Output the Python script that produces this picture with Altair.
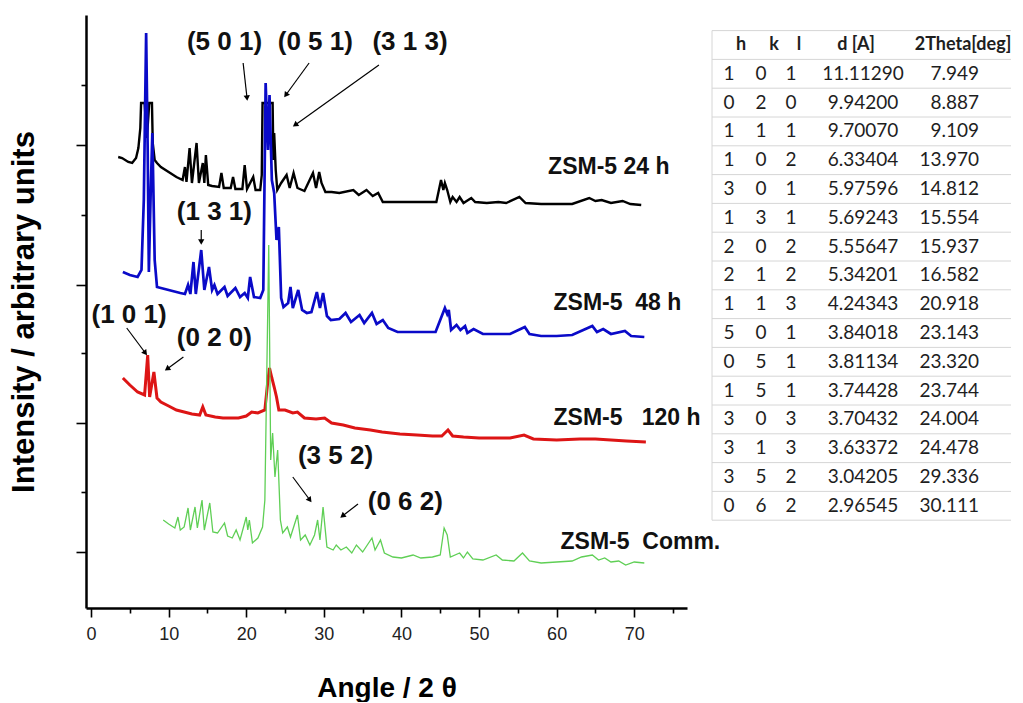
import math
import altair as alt
import pandas as pd

# ---------------- data ----------------
# ZSM-5 24 h (black)
black_angle = [3.5, 4.0, 4.8, 5.3, 5.8, 6.1, 6.35, 6.45, 6.9, 7.2,
               7.5, 7.85, 7.95, 8.2, 8.5, 9.0, 10.0, 11.0, 11.8, 12.1,
               12.3, 12.7, 13.0, 13.6, 13.9, 14.4, 14.6, 14.8, 15.1, 15.6,
               16.5, 16.8, 17.1, 18.0, 18.3, 18.6, 19.5, 19.8, 20.1, 20.9,
               21.2, 21.8, 22.0, 22.1, 22.6, 23.0, 23.4, 23.5, 23.6, 23.8,
               24.0, 24.5, 25.2, 25.6, 26.1, 26.6, 27.5, 28.6, 29.0, 29.4,
               29.7, 30.2, 31.0, 32.0, 33.8, 34.5, 35.5, 36.3, 37.0, 37.6,
               38.5, 40.0, 42.0, 44.5, 45.1, 45.4, 45.6, 45.9, 46.3, 46.6,
               47.1, 47.5, 48.0, 49.0, 49.5, 51.0, 52.5, 53.5, 55.2, 56.0,
               58.0, 60.0, 62.0, 64.2, 65.0, 65.8, 67.0, 68.5, 69.5, 70.9]
black_int = [451, 450, 446, 445, 450, 460, 480, 505, 505, 470,
             505, 505, 465, 448, 445, 441, 436, 431, 428, 441,
             426, 460, 425, 465, 425, 445, 425, 453, 423, 422,
             421, 435, 420, 420, 431, 419, 419, 443, 419, 431,
             418, 418, 433, 505, 505, 505, 505, 448, 475, 438,
             418, 425, 433, 420, 435, 420, 417, 435, 420, 436,
             425, 416, 416, 415, 418, 413, 418, 412, 415, 406,
             406, 406, 406, 406, 428, 418, 425, 418, 406, 411,
             406, 411, 405, 410, 406, 405, 406, 405, 411, 405,
             404, 404, 404, 410, 407, 408, 405, 407, 404, 403]

# ZSM-5 48 h (blue)
blue_angle = [4.1, 5.0, 6.0, 6.5, 6.8, 7.1, 7.3, 7.45, 7.7, 7.9,
              8.2, 8.5, 9.5, 10.5, 11.5, 12.1, 12.5, 12.8, 13.2, 13.5,
              14.2, 14.6, 15.2, 15.6, 15.9, 16.3, 17.2, 17.6, 18.6, 19.2,
              19.8, 20.2, 20.5, 21.0, 21.8, 22.2, 22.5, 22.8, 23.0, 23.3,
              23.6, 23.9, 24.2, 24.5, 24.8, 25.4, 25.7, 26.0, 26.7, 27.2,
              27.8, 28.4, 29.1, 29.5, 29.9, 30.4, 30.9, 32.0, 32.8, 33.5,
              34.6, 35.2, 36.2, 36.8, 37.6, 38.3, 39.5, 42.0, 44.4, 45.6,
              45.9, 46.1, 46.4, 47.1, 47.6, 48.2, 48.5, 49.3, 50.5, 52.5,
              54.0, 55.9, 56.5, 58.0, 60.0, 62.0, 64.6, 65.2, 66.0, 67.0,
              68.8, 69.6, 71.3]
blue_int = [336, 333, 331, 338, 408, 575, 458, 336, 420, 475,
            348, 321, 319, 317, 315, 314, 323, 314, 346, 314,
            358, 318, 341, 318, 323, 314, 321, 312, 320, 311,
            315, 310, 331, 311, 310, 318, 525, 458, 513, 428,
            415, 368, 381, 310, 301, 305, 321, 300, 318, 298,
            295, 296, 316, 300, 315, 292, 288, 289, 295, 286,
            293, 285, 295, 284, 288, 280, 276, 276, 276, 300,
            294, 298, 278, 283, 278, 282, 275, 279, 274, 274,
            274, 281, 274, 272, 272, 273, 282, 276, 279, 274,
            277, 272, 271]

# ZSM-5 120 h (red)
red_angle = [4.1, 5.0, 6.0, 6.9, 7.3, 7.55, 8.1, 8.5, 9.0, 10.0,
             11.0, 12.0, 13.0, 14.0, 14.4, 14.8, 16.0, 17.0, 18.0, 19.0,
             20.0, 20.7, 21.5, 22.4, 22.8, 23.0, 23.3, 23.6, 23.9, 24.2,
             25.0, 26.0, 26.6, 27.5, 29.0, 30.1, 31.0, 32.5, 34.0, 36.0,
             37.5, 39.8, 42.0, 44.0, 45.2, 46.0, 46.6, 48.0, 50.0, 52.0,
             54.0, 55.8, 57.0, 60.0, 63.0, 65.0, 67.0, 69.0, 71.5]
red_int = [230, 223, 216, 213, 253, 211, 236, 210, 206, 202,
           198, 196, 194, 193, 201, 193, 191, 190, 190, 190,
           192, 196, 195, 198, 228, 240, 230, 221, 211, 198,
           198, 195, 196, 190, 189, 190, 185, 183, 180, 178,
           176, 174, 173, 172, 172, 178, 172, 171, 170, 170,
           170, 173, 169, 168, 169, 169, 168, 167, 166]

# ZSM-5 commercial (green)
green_angle = [9.3, 10.0, 10.8, 11.2, 11.5, 12.0, 12.5, 12.8, 13.4, 13.7,
               14.3, 14.6, 15.3, 15.7, 16.3, 17.2, 17.6, 18.2, 18.7, 19.2,
               20.0, 20.2, 20.4, 20.8, 21.5, 22.1, 22.4, 22.9, 23.15, 23.4,
               23.7, 24.05, 24.4, 24.7, 25.3, 25.7, 26.6, 27.0, 27.6, 28.2,
               28.8, 29.2, 29.5, 29.9, 30.4, 31.2, 31.6, 32.2, 32.9, 33.6,
               34.2, 35.0, 36.2, 36.6, 37.3, 37.8, 38.9, 40.0, 41.5, 42.5,
               44.0, 45.0, 45.5, 45.9, 46.3, 47.5, 48.0, 48.5, 49.2, 50.5,
               52.2, 53.0, 54.5, 55.6, 56.5, 58.0, 60.0, 62.0, 63.2, 64.6,
               65.4, 66.2, 67.0, 68.0, 68.9, 70.0, 71.3]
green_int = [88, 84, 80, 91, 78, 81, 100, 78, 101, 80,
             108, 78, 105, 76, 75, 85, 72, 70, 78, 68,
             91, 78, 88, 65, 70, 81, 108, 363, 148, 175,
             131, 158, 88, 75, 81, 71, 93, 68, 73, 63,
             73, 88, 68, 101, 61, 58, 63, 58, 61, 55,
             63, 56, 70, 58, 68, 55, 51, 50, 53, 50,
             51, 53, 80, 73, 51, 55, 50, 56, 49, 48,
             53, 48, 47, 55, 47, 45, 46, 47, 51, 53,
             48, 50, 46, 47, 43, 46, 45]

# series labels
lab_text = ["ZSM-5 24 h", "ZSM-5\u00a0\u00a048 h", "ZSM-5\u00a0\u00a0\u00a0120 h", "ZSM-5\u00a0\u00a0Comm."]
lab_angle = [58.9, 59.6, 59.6, 60.5]
lab_int = [441, 305, 190, 66]

# (h k l) annotations
ann_text = ["(5 0 1)", "(0 5 1)", "(3 1 3)", "(1 3 1)", "(1 0 1)", "(0 2 0)", "(3 5 2)", "(0 6 2)"]
ann_angle = [17.2, 28.9, 41.1, 15.9, 4.9, 15.9, 31.5, 40.5]
ann_int = [566, 566, 566, 396, 293, 270, 152, 106]
arr_x1 = [19.6, 28.1, 37.1, 14.2, 4.6, 11.9, 26.0, 34.4]
arr_y1 = [545, 545, 543, 378, 280, 251, 131, 104]
arr_x2 = [20.1, 25.1, 26.3, 14.2, 7.0, 9.8, 28.2, 32.4]
arr_y2 = [510, 513, 483, 366, 255, 239, 108, 92]

# axes
x_ticks = [0, 5, 10, 15, 20, 25, 30, 35, 40, 45, 50, 55, 60, 65, 70, 75]
y_ticks = [56, 116, 185, 255, 323, 393, 463, 523]
y_major = [56, 185, 323, 463]

# reflection table
h_idx = [1, 0, 1, 1, 3, 1, 2, 2, 1, 5, 0, 1, 3, 3, 3, 0]
k_idx = [0, 2, 1, 0, 0, 3, 0, 1, 1, 0, 5, 5, 0, 1, 5, 6]
l_idx = [1, 0, 1, 2, 1, 1, 2, 2, 3, 1, 1, 1, 3, 3, 2, 2]
d_spacing = ["11.11290", "9.94200", "9.70070", "6.33404", "5.97596", "5.69243",
             "5.55647", "5.34201", "4.24343", "3.84018", "3.81134", "3.74428",
             "3.70432", "3.63372", "3.04205", "2.96545"]
two_theta = ["7.949", "8.887", "9.109", "13.970", "14.812", "15.554", "15.937",
             "16.582", "20.918", "23.143", "23.320", "23.744", "24.004", "24.478",
             "29.336", "30.111"]
tbl_header = ["h", "k", "l", "d [A]", "2Theta[deg]"]

# ---------------- chart ----------------
FONT = "Arial, Liberation Sans, sans-serif"
TFONT = "Lato, Open Sans, sans-serif"
W, H = 601, 593
X_DOM = [-0.65, 76.8]
Y_DOM = [0, 593]

xs = alt.Scale(domain=X_DOM, nice=False, zero=False)
ys = alt.Scale(domain=Y_DOM, nice=False, zero=False)

x_axis = alt.Axis(
    values=x_ticks, title="Angle / 2 θ", grid=False,
    labelExpr="datum.value % 10 === 0 ? datum.label : ''",
    tickSize={"condition": {"test": "datum.value % 10 === 0", "value": 9}, "value": 5},
    tickWidth=1.6, tickColor="black", domainColor="black", domainWidth=2.5,
    labelFont=FONT, labelFontSize=18, labelColor="#222", labelPadding=8,
    titleFont=FONT, titleFontSize=28, titleFontWeight="bold", titleColor="black",
    titlePadding=31,
)
major_test = "indexof([" + ",".join(str(v) for v in y_major) + "], datum.value) >= 0"
y_axis = alt.Axis(
    values=y_ticks, labels=False, title="Intensity / arbitrary units", grid=False,
    tickSize={"condition": {"test": major_test, "value": 10}, "value": 5},
    tickWidth=1.6, tickColor="black", domainColor="black", domainWidth=2.5,
    titleFont=FONT, titleFontSize=31, titleFontWeight="bold", titleColor="black",
    titlePadding=35,
)


def trace(ang, inten, color, width):
    df = pd.DataFrame({"angle": ang, "intensity": inten})
    return alt.Chart(df).mark_line(color=color, strokeWidth=width).encode(
        x=alt.X("angle:Q", scale=xs, axis=x_axis),
        y=alt.Y("intensity:Q", scale=ys, axis=y_axis),
    )


black = trace(black_angle, black_int, "#000000", 2.4)
blue = trace(blue_angle, blue_int, "#0a0ac8", 2.7)
red = trace(red_angle, red_int, "#dd1515", 3.0)
green = trace(green_angle, green_int, "#5fcf55", 1.3)

px_x = W / (X_DOM[1] - X_DOM[0])
px_y = H / (Y_DOM[1] - Y_DOM[0])
heads = [
    math.degrees(math.atan2((b - a) * px_x, (d - c) * px_y)) % 360
    for a, b, c, d in zip(arr_x1, arr_x2, arr_y1, arr_y2)
]
arr_df = pd.DataFrame({"x1": arr_x1, "y1": arr_y1, "x2": arr_x2, "y2": arr_y2, "ang": heads})

arrows = alt.Chart(arr_df).mark_rule(color="black", strokeWidth=1.2).encode(
    x=alt.X("x1:Q", scale=xs, axis=x_axis), y=alt.Y("y1:Q", scale=ys, axis=y_axis),
    x2="x2:Q", y2="y2:Q",
)
arrow_heads = alt.Chart(arr_df).mark_point(
    shape="triangle-up", filled=True, size=40, color="black", opacity=1
).encode(
    x=alt.X("x2:Q", scale=xs, axis=x_axis), y=alt.Y("y2:Q", scale=ys, axis=y_axis),
    angle=alt.Angle("ang:Q", scale=None),
)

ann_df = pd.DataFrame({"t": ann_text, "x": ann_angle, "y": ann_int})
ann = alt.Chart(ann_df).mark_text(
    font=FONT, fontSize=26, fontWeight="bold", color="#111", align="center", baseline="middle"
).encode(
    x=alt.X("x:Q", scale=xs, axis=x_axis), y=alt.Y("y:Q", scale=ys, axis=y_axis), text="t:N"
)

lab_df = pd.DataFrame({"t": lab_text, "x": lab_angle, "y": lab_int})
labels = alt.Chart(lab_df).mark_text(
    font=FONT, fontSize=23, fontWeight="bold", color="#111", align="left", baseline="middle"
).encode(
    x=alt.X("x:Q", scale=xs, axis=x_axis), y=alt.Y("y:Q", scale=ys, axis=y_axis), text="t:N"
)

main = alt.layer(black, blue, red, green, arrows, arrow_heads, ann, labels)

# ---- table (own y scale: row index) ----
tys = alt.Scale(domain=[0, 16], range=[30, 30 + 28.8 * 16], nice=False, zero=False)
tbl = pd.DataFrame({"row": list(range(1, 17)), "h": h_idx, "k": k_idx, "l": l_idx,
                    "d": d_spacing, "tt": two_theta})
hdr = pd.DataFrame({"row": [0] * len(tbl_header), "t": tbl_header, "c": ["h", "k", "l", "d", "tt"]})

body_cols = [("h", 643, "center"), ("k", 675, "center"), ("l", 705, "center"),
             ("d", 777, "center"), ("tt", 893, "right")]
hdr_pos = {"h": 655, "k": 688, "l": 713, "d": 770, "tt": 877}

tbl_layers = []
bounds = pd.DataFrame({"row": [r - 0.5 for r in range(len(h_idx) + 2)]})
tbl_layers.append(
    alt.Chart(bounds).mark_rule(color="#d6d6d6", strokeWidth=1).encode(
        y=alt.Y("row:Q", scale=tys, axis=None), x=alt.value(626), x2=alt.value(925)
    )
)
edge = pd.DataFrame({"top": [-0.5], "bottom": [len(h_idx) + 0.5]})
tbl_layers.append(
    alt.Chart(edge).mark_rule(color="#d6d6d6", strokeWidth=1).encode(
        y=alt.Y("top:Q", scale=tys, axis=None), y2="bottom:Q", x=alt.value(626)
    )
)
for col, px, al in body_cols:
    tbl_layers.append(
        alt.Chart(tbl).mark_text(font=TFONT, fontSize=19, color="#1e1e1e", align=al,
                                 baseline="middle").encode(
            y=alt.Y("row:Q", scale=tys, axis=None), x=alt.value(px), text=f"{col}:N"
        )
    )
for c, px in hdr_pos.items():
    tbl_layers.append(
        alt.Chart(hdr).transform_filter(alt.datum.c == c).mark_text(
            font=TFONT, fontSize=18, fontWeight="bold", color="#1e1e1e", align="center",
            baseline="middle").encode(
            y=alt.Y("row:Q", scale=tys, axis=None), x=alt.value(px), text="t:N"
        )
    )

table = alt.layer(*tbl_layers)

chart = (
    alt.layer(main, table)
    .resolve_scale(y="independent")
    .properties(width=W, height=H, padding={"left": 0, "top": 7, "right": 0, "bottom": 0},
                background="white")
    .configure_view(stroke=None)
)

chart.save("out.html", embed_options={"renderer": "svg", "actions": False})
